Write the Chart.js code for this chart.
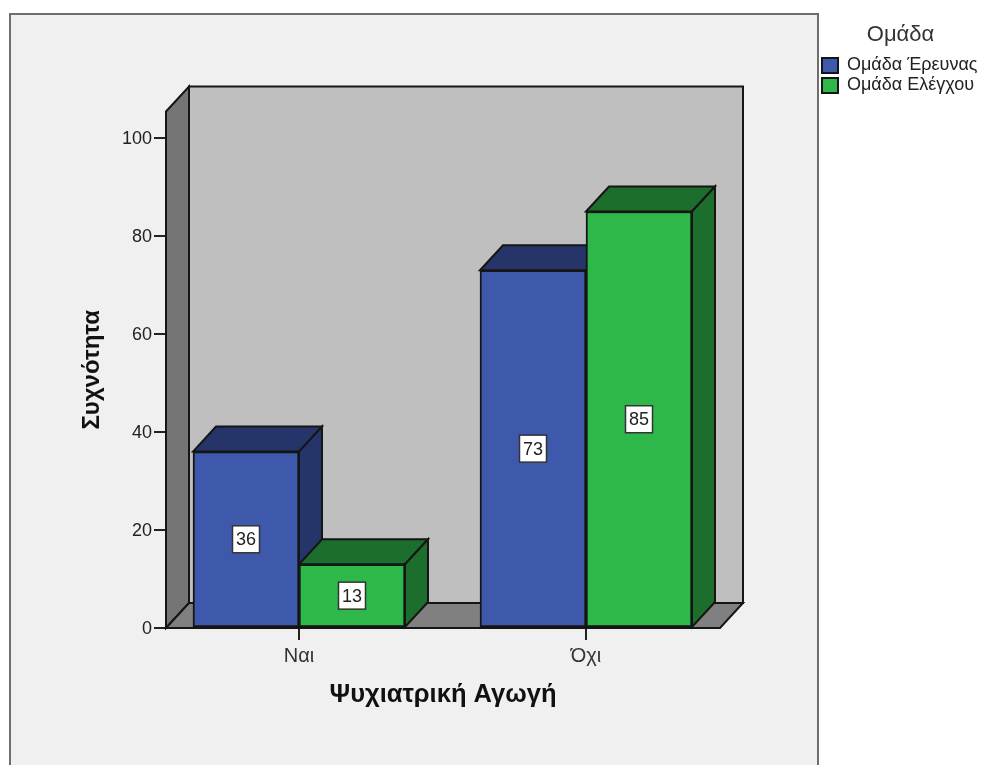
<!DOCTYPE html>
<html>
<head>
<meta charset="utf-8">
<title>Ψυχιατρική Αγωγή</title>
<script src="https://cdn.jsdelivr.net/npm/chart.js@4"></script>
<style>
  html, body { margin: 0; padding: 0; background: #fff; }
  canvas { display: block; }
</style>
</head>
<body>
<canvas id="chart" width="981" height="765"></canvas>
<script>
const categories = ['Ναι', 'Όχι'];
const groupNames = ['Ομάδα Έρευνας', 'Ομάδα Ελέγχου'];
const researchGroup = [36, 73];
const controlGroup = [13, 85];
const yTicksMax = 105.4;

const FONT = '"Liberation Sans", Arial, sans-serif';
const INK = '#151515';
const DEPTH_X = 23;
const DEPTH_Y = 25;

function polygon(ctx, pts, fill) {
  ctx.beginPath();
  pts.forEach((p, i) => i ? ctx.lineTo(p[0], p[1]) : ctx.moveTo(p[0], p[1]));
  ctx.closePath();
  ctx.fillStyle = fill;
  ctx.fill();
  ctx.stroke();
}

// grey panel behind the plot, runs off the bottom of the page
const panel = {
  id: 'panel',
  beforeDraw(chart) {
    const ctx = chart.ctx;
    ctx.save();
    ctx.fillStyle = '#f0f0f0';
    ctx.strokeStyle = '#6e6e6e';
    ctx.lineWidth = 2;
    ctx.fillRect(10, 14, 808, 760);
    ctx.strokeRect(10, 14, 808, 760);
    ctx.restore();
  }
};

// back wall, side wall and floor of the 3D box, then the bar tops and sides
const box3d = {
  id: 'box3d',
  beforeDatasetsDraw(chart) {
    const ctx = chart.ctx;
    const { left, right, top, bottom } = chart.chartArea;
    ctx.save();
    ctx.strokeStyle = INK;
    ctx.lineWidth = 2;
    polygon(ctx, [[left + DEPTH_X, top - DEPTH_Y], [right + DEPTH_X, top - DEPTH_Y], [right + DEPTH_X, bottom - DEPTH_Y], [left + DEPTH_X, bottom - DEPTH_Y]], '#bfbfbf');
    polygon(ctx, [[left, top], [left + DEPTH_X, top - DEPTH_Y], [left + DEPTH_X, bottom - DEPTH_Y], [left, bottom]], '#757575');
    polygon(ctx, [[left, bottom], [left + DEPTH_X, bottom - DEPTH_Y], [right + DEPTH_X, bottom - DEPTH_Y], [right, bottom]], '#808080');

    chart.data.datasets.forEach((ds, i) => {
      chart.getDatasetMeta(i).data.forEach(bar => {
        const x0 = bar.x - bar.width / 2;
        const x1 = bar.x + bar.width / 2;
        polygon(ctx, [[x0, bar.y], [x0 + DEPTH_X, bar.y - DEPTH_Y], [x1 + DEPTH_X, bar.y - DEPTH_Y], [x1, bar.y]], ds.topColor);
        polygon(ctx, [[x1, bar.y], [x1 + DEPTH_X, bar.y - DEPTH_Y], [x1 + DEPTH_X, bar.base - DEPTH_Y], [x1, bar.base]], ds.sideColor);
      });
    });
    ctx.restore();
  }
};

// white value boxes in the middle of each bar
const valueBoxes = {
  id: 'valueBoxes',
  afterDatasetsDraw(chart) {
    const ctx = chart.ctx;
    ctx.save();
    ctx.font = '18px ' + FONT;
    ctx.textAlign = 'center';
    ctx.textBaseline = 'middle';
    chart.data.datasets.forEach((ds, i) => {
      chart.getDatasetMeta(i).data.forEach((bar, j) => {
        const cy = (bar.y + bar.base) / 2;
        ctx.fillStyle = '#fff';
        ctx.strokeStyle = '#333';
        ctx.lineWidth = 1.5;
        ctx.fillRect(bar.x - 13.5, cy - 13.5, 27, 27);
        ctx.strokeRect(bar.x - 13.5, cy - 13.5, 27, 27);
        ctx.fillStyle = '#222';
        ctx.fillText(ds.data[j].y, bar.x, cy + 1);
      });
    });
    ctx.restore();
  }
};

new Chart(document.getElementById('chart'), {
  type: 'bar',
  data: {
    datasets: [
      {
        label: groupNames[0],
        data: researchGroup.map((v, i) => ({ x: i, y: v })),
        backgroundColor: '#3e58ac',
        topColor: '#25356a',
        sideColor: '#25356a',
        borderColor: INK,
        borderWidth: 2,
        borderSkipped: false
      },
      {
        label: groupNames[1],
        data: controlGroup.map((v, i) => ({ x: i, y: v })),
        backgroundColor: '#2fb84a',
        topColor: '#1c6e2d',
        sideColor: '#1c6e2d',
        borderColor: INK,
        borderWidth: 2,
        borderSkipped: false
      }
    ]
  },
  plugins: [panel, box3d, valueBoxes],
  options: {
    responsive: false,
    animation: false,
    barThickness: 106,
    layout: { padding: { left: 78, bottom: 55 } },
    plugins: {
      tooltip: { enabled: false },
      legend: {
        position: 'right',
        align: 'start',
        maxWidth: 161,
        title: {
          display: true,
          text: 'Ομάδα',
          color: '#333',
          font: { family: FONT, size: 22 },
          padding: { top: 24, bottom: 4 }
        },
        labels: {
          color: '#222',
          font: { family: FONT, size: 18 },
          boxWidth: 16,
          boxHeight: 15,
          padding: 2
        }
      }
    },
    scales: {
      x: {
        type: 'linear',
        position: 'bottom',
        offset: false,
        min: -0.4634,
        max: 1.4669,
        afterBuildTicks: s => { s.ticks = categories.map((_, i) => ({ value: i })); },
        afterFit: s => { s.height = 82; },
        grid: { offset: false, drawOnChartArea: false, tickLength: 12, color: '#222', lineWidth: 2 },
        border: { display: false },
        ticks: {
          color: '#333',
          font: { family: FONT, size: 20 },
          padding: 4,
          maxRotation: 0,
          autoSkip: false,
          callback: v => categories[v]
        },
        title: {
          display: true,
          text: 'Ψυχιατρική Αγωγή',
          color: '#111',
          font: { family: FONT, size: 25.5, weight: 'bold' },
          padding: 0
        }
      },
      y: {
        min: 0,
        max: yTicksMax,
        afterFit: s => { s.width = 88; },
        grid: { drawOnChartArea: false, tickLength: 12, color: '#222', lineWidth: 2 },
        border: { display: false },
        ticks: {
          color: '#222',
          stepSize: 20,
          includeBounds: false,
          padding: 2,
          labelOffset: 1.5,
          font: { family: FONT, size: 18 }
        },
        title: {
          display: true,
          text: 'Συχνότητα',
          color: '#111',
          font: { family: FONT, size: 24, weight: 'bold' },
          padding: 0
        }
      },
      // empty axes that hold the plot clear of the legend column and the page top
      gapTop: {
        axis: 'x',
        position: 'top',
        grid: { display: false },
        border: { display: false },
        ticks: { display: false },
        afterFit: s => { s.height = 111.5; }
      },
      gapRight: {
        axis: 'y',
        position: 'right',
        grid: { display: false },
        border: { display: false },
        ticks: { display: false },
        afterFit: s => { s.width = 100; }
      }
    }
  }
});
</script>
</body>
</html>
